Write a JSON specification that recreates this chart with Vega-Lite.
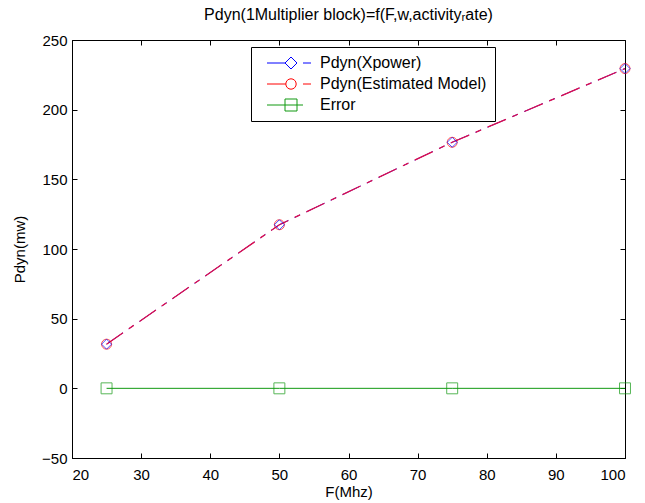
{
  "$schema": "https://vega.github.io/schema/vega-lite/v6.json",
  "width": 553,
  "height": 418,
  "autosize": {"type": "none"},
  "padding": {"left": 72, "top": 40, "right": 20, "bottom": 45},
  "background": "white",
  "config": {
    "font": "Liberation Sans",
    "view": {"stroke": "black", "strokeWidth": 1},
    "axis": {
      "grid": false,
      "domainColor": "black",
      "tickColor": "black",
      "labelColor": "black",
      "titleColor": "black",
      "labelFont": "Liberation Sans",
      "labelFontSize": 15,
      "titleFont": "Liberation Sans",
      "titleFontSize": 15,
      "titleFontWeight": "normal",
      "tickSize": -5
    }
  },
  "title": {
    "text": "Pdyn(1Multiplier block)=f(F,w,activityᵣate)",
    "font": "Liberation Sans",
    "fontSize": 16,
    "fontWeight": "normal",
    "color": "black",
    "frame": "group",
    "anchor": "middle",
    "offset": 10
  },
  "data": {
    "values": [
      {"series": "Pdyn(Xpower)", "F": 25, "P": 31.7},
      {"series": "Pdyn(Xpower)", "F": 50, "P": 117.4},
      {"series": "Pdyn(Xpower)", "F": 75, "P": 176.6},
      {"series": "Pdyn(Xpower)", "F": 100, "P": 229.5},
      {"series": "Pdyn(Estimated Model)", "F": 25, "P": 31.7},
      {"series": "Pdyn(Estimated Model)", "F": 50, "P": 117.4},
      {"series": "Pdyn(Estimated Model)", "F": 75, "P": 176.6},
      {"series": "Pdyn(Estimated Model)", "F": 100, "P": 229.5},
      {"series": "Error", "F": 25, "P": 0},
      {"series": "Error", "F": 50, "P": 0},
      {"series": "Error", "F": 75, "P": 0},
      {"series": "Error", "F": 100, "P": 0}
    ]
  },
  "resolve": {"scale": {"x": "shared", "y": "shared"}, "axis": {"x": "independent", "y": "independent"}},
  "layer": [
    {
      "transform": [{"filter": "datum.series === 'Pdyn(Xpower)'"}],
      "mark": {"type": "line", "color": "blue", "strokeWidth": 1, "strokeDash": [20, 7, 6, 7]},
      "encoding": {
        "x": {"field": "F", "type": "quantitative", "scale": {"domain": [20, 100], "nice": false}, "axis": {"values": [20, 30, 40, 50, 60, 70, 80, 90, 100], "title": "F(Mhz)", "titlePadding": 2, "labelPadding": 14}},
        "y": {"field": "P", "type": "quantitative", "scale": {"domain": [-50, 250], "nice": false, "zero": false}, "axis": {"values": [-50, 0, 50, 100, 150, 200, 250], "title": "Pdyn(mw)", "titlePadding": 14, "labelPadding": 10}}
      }
    },
    {
      "mark": {"type": "point", "opacity": 0},
      "encoding": {
        "x": {"field": "F", "type": "quantitative", "axis": {"orient": "top", "values": [20, 30, 40, 50, 60, 70, 80, 90, 100], "labels": false, "title": null, "domain": false}},
        "y": {"field": "P", "type": "quantitative", "axis": {"orient": "right", "values": [-50, 0, 50, 100, 150, 200, 250], "labels": false, "title": null, "domain": false}},
        "shape": {
          "field": "series", "type": "nominal",
          "scale": {
            "domain": ["Pdyn(Xpower)", "Pdyn(Estimated Model)", "Error"],
            "range": [
              "M-6,0L-1.5,0M0,-1.5L1.5,0L0,1.5L-1.5,0ZM3,0L5,0",
              "M-6,0L-1.3,0M1.3,0A1.3,1.3,0,1,1,-1.3,0A1.3,1.3,0,1,1,1.3,0ZM3,0L5,0",
              "M-6,0L3,0M-1.5,-1.5L1.5,-1.5L1.5,1.5L-1.5,1.5Z"
            ]
          },
          "legend": {
            "title": null,
            "orient": "none",
            "legendX": 179,
            "legendY": 7,
            "fillColor": "white",
            "strokeColor": "black",
            "padding": 8,
            "labelFont": "Liberation Sans",
            "labelFontSize": 16,
            "labelColor": "black",
            "symbolSize": 64,
            "symbolStrokeWidth": 1,
            "symbolFillColor": "transparent",
            "symbolOpacity": 1,
            "symbolOffset": 24,
            "labelOffset": 21,
            "rowPadding": 5,
            "labelLimit": 300
          }
        },
        "color": {
          "field": "series", "type": "nominal",
          "scale": {"domain": ["Pdyn(Xpower)", "Pdyn(Estimated Model)", "Error"], "range": ["blue", "red", "#119911"]}
        }
      }
    },
    {
      "transform": [{"filter": "datum.series === 'Pdyn(Estimated Model)'"}],
      "mark": {"type": "line", "color": "#e0104a", "strokeWidth": 1.3, "strokeDash": [20, 7, 6, 7]},
      "encoding": {
        "x": {"field": "F", "type": "quantitative", "axis": null},
        "y": {"field": "P", "type": "quantitative", "axis": null}
      }
    },
    {
      "transform": [{"filter": "datum.series === 'Error'"}],
      "mark": {"type": "line", "color": "#119911", "strokeWidth": 1},
      "encoding": {
        "x": {"field": "F", "type": "quantitative", "axis": null},
        "y": {"field": "P", "type": "quantitative", "axis": null}
      }
    },
    {
      "transform": [{"filter": "datum.series === 'Pdyn(Estimated Model)'"}],
      "mark": {"type": "point", "shape": "circle", "filled": false, "color": "red", "strokeWidth": 1, "size": 100},
      "encoding": {
        "x": {"field": "F", "type": "quantitative", "axis": null},
        "y": {"field": "P", "type": "quantitative", "axis": null}
      }
    },
    {
      "transform": [{"filter": "datum.series === 'Pdyn(Xpower)'"}],
      "mark": {"type": "point", "shape": "diamond", "filled": false, "color": "blue", "strokeWidth": 1, "size": 100},
      "encoding": {
        "x": {"field": "F", "type": "quantitative", "axis": null},
        "y": {"field": "P", "type": "quantitative", "axis": null}
      }
    },
    {
      "transform": [{"filter": "datum.series === 'Error'"}],
      "mark": {"type": "point", "shape": "square", "filled": false, "color": "#119911", "strokeWidth": 1, "size": 120},
      "encoding": {
        "x": {"field": "F", "type": "quantitative", "axis": null},
        "y": {"field": "P", "type": "quantitative", "axis": null}
      }
    }
  ]
}
